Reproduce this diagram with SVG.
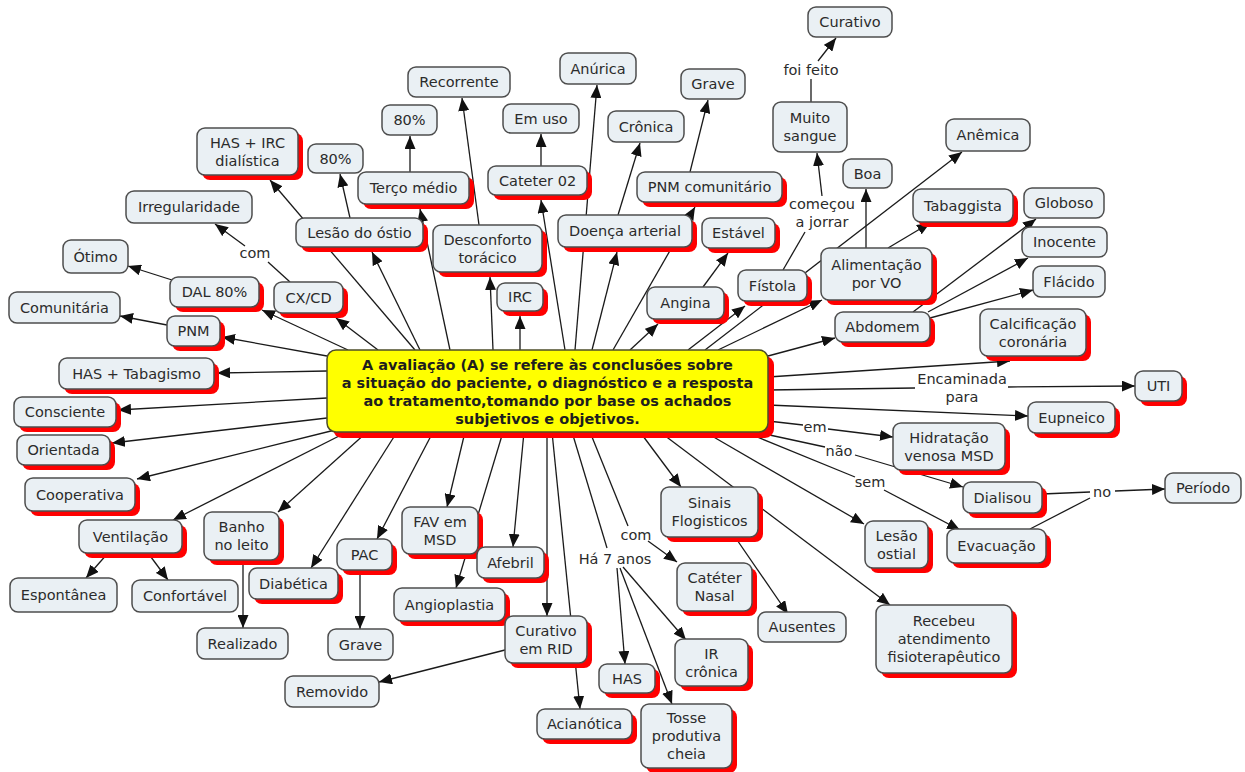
<svg xmlns="http://www.w3.org/2000/svg" width="1245" height="772" viewBox="0 0 1245 772">
<defs>
<style>
.b{fill:#eaf0f4;stroke:#4d4d4d;stroke-width:1.5}
.s{fill:#f00}
.t{font-family:"DejaVu Sans",Verdana,sans-serif;font-size:14.5px;fill:#2b2b2b;text-anchor:middle}
.ct{font-family:"DejaVu Sans",Verdana,sans-serif;font-size:14.5px;font-weight:bold;fill:#1e1e1e;text-anchor:middle}
.c path{fill:none;stroke:#1a1a1a;stroke-width:1.3}
.c path.a{marker-end:url(#ah)}
</style>
<marker id="ah" viewBox="0 0 13 11" refX="13" refY="5.5" markerWidth="13" markerHeight="11" markerUnits="userSpaceOnUse" orient="auto"><path d="M0,0 L13,5.5 L0,11z" fill="#111"/></marker>
</defs>
<rect width="1245" height="772" fill="#fff"/>
<g id="connectors" class="c">
<path class="a" d="M415,350 L270,180"/>
<path class="a" d="M350,218 L340,174"/>
<path class="a" d="M420,350 L372,252"/>
<path class="a" d="M450,350 L420,209"/>
<path class="a" d="M410,172 L410,136"/>
<path class="a" d="M479,225 L462,98"/>
<path class="a" d="M493,350 L490,277"/>
<path class="a" d="M520,350 L520,316"/>
<path class="a" d="M565,350 L541,200"/>
<path class="a" d="M541,166 L541,134"/>
<path class="a" d="M575,350 L597,85"/>
<path class="a" d="M592,350 L617,252"/>
<path class="a" d="M618,215 L640,143"/>
<path class="a" d="M613,350 L695,207"/>
<path class="a" d="M690,172 L708,100"/>
<path class="a" d="M630,350 L658,324"/>
<path class="a" d="M703,287 L728,253"/>
<path class="a" d="M688,350 L745,306"/>
<path d="M783,270 L805,232"/>
<path class="a" d="M822,196 L817,153"/>
<path d="M811,102 L811,79"/>
<path class="a" d="M818,61 L836,38"/>
<path class="a" d="M705,350 L962,152"/>
<path class="a" d="M718,350 L822,300"/>
<path class="a" d="M866,248 L866,189"/>
<path class="a" d="M888,248 L930,223"/>
<path class="a" d="M913,312 L1036,219"/>
<path class="a" d="M928,312 L1028,258"/>
<path class="a" d="M930,318 L1033,290"/>
<path class="a" d="M768,356 L835,338"/>
<path class="a" d="M768,377 L1010,361"/>
<path d="M768,390 L915,388"/>
<path class="a" d="M1008,387 L1135,386"/>
<path class="a" d="M768,405 L1028,416"/>
<path d="M768,421 L803,425"/>
<path class="a" d="M828,429 L893,437"/>
<path d="M765,434 L825,447"/>
<path class="a" d="M855,455 L963,487"/>
<path d="M745,432 L855,477"/>
<path class="a" d="M884,490 L960,530"/>
<path d="M1042,494 L1090,492"/>
<path class="a" d="M1115,491 L1165,489"/>
<path d="M1030,529 L1090,498"/>
<path class="a" d="M705,432 L864,524"/>
<path class="a" d="M660,432 L890,605"/>
<path class="a" d="M640,432 L681,487"/>
<path class="a" d="M735,537 L788,614"/>
<path d="M590,432 L628,526"/>
<path class="a" d="M648,541 L677,562"/>
<path d="M572,432 L607,548"/>
<path class="a" d="M617,568 L625,664"/>
<path class="a" d="M620,568 L672,704"/>
<path class="a" d="M623,567 L686,640"/>
<path class="a" d="M547,432 L547,616"/>
<path class="a" d="M505,650 L379,682"/>
<path class="a" d="M552,432 L580,709"/>
<path class="a" d="M524,432 L513,547"/>
<path class="a" d="M503,432 L456,588"/>
<path class="a" d="M465,432 L447,507"/>
<path class="a" d="M433,432 L377,539"/>
<path class="a" d="M360,570 L360,629"/>
<path class="a" d="M397,432 L311,568"/>
<path class="a" d="M367,432 L278,512"/>
<path class="a" d="M243,560 L243,628"/>
<path class="a" d="M347,432 L173,520"/>
<path class="a" d="M108,553 L86,578"/>
<path class="a" d="M148,553 L168,580"/>
<path class="a" d="M335,430 L137,479"/>
<path class="a" d="M327,418 L112,443"/>
<path class="a" d="M327,398 L118,410"/>
<path class="a" d="M327,371 L217,373"/>
<path class="a" d="M327,356 L222,337"/>
<path class="a" d="M167,325 L120,316"/>
<path class="a" d="M348,350 L262,310"/>
<path class="a" d="M172,280 L128,266"/>
<path class="a" d="M378,350 L336,318"/>
<path d="M290,282 L268,262"/>
<path class="a" d="M245,246 L215,224"/>
</g>
<g id="labels" class="t">
<text x="811" y="75">foi feito</text>
<text x="822" y="209">começou</text>
<text x="822" y="227">a jorrar</text>
<text x="255" y="258">com</text>
<text x="962" y="384">Encaminada</text>
<text x="962" y="402">para</text>
<text x="815" y="432">em</text>
<text x="839" y="456">não</text>
<text x="870" y="487">sem</text>
<text x="1102" y="497">no</text>
<text x="636" y="540">com</text>
<text x="615" y="564">Há 7 anos</text>
</g>
<g id="center">
<rect class="s" x="333" y="356" width="441" height="82" rx="9"/>
<rect x="327" y="350" width="441" height="82" rx="9" fill="#ffff00" stroke="#4d4d2a" stroke-width="1.5"/>
<text class="ct" x="547.5" y="370">A avaliação (A) se refere às conclusões sobre</text>
<text class="ct" x="547.5" y="388">a situação do paciente, o diagnóstico e a resposta</text>
<text class="ct" x="547.5" y="406">ao tratamento,tomando por base os achados</text>
<text class="ct" x="547.5" y="424">subjetivos e objetivos.</text>
</g>
<g id="n-curativo-top"><rect class="b" x="808" y="7" width="84" height="30" rx="8"/><text class="t" x="850" y="27">Curativo</text></g>
<g id="n-muito-sangue"><rect class="b" x="773" y="102" width="74" height="50" rx="8"/><text class="t" x="810" y="123">Muito</text><text class="t" x="810" y="141">sangue</text></g>
<g id="n-anurica"><rect class="b" x="560" y="53" width="76" height="31" rx="8"/><text class="t" x="598" y="73.5">Anúrica</text></g>
<g id="n-recorrente"><rect class="b" x="408" y="67" width="102" height="30" rx="8"/><text class="t" x="459" y="87">Recorrente</text></g>
<g id="n-grave-top"><rect class="b" x="681" y="69" width="64" height="30" rx="8"/><text class="t" x="713" y="89">Grave</text></g>
<g id="n-80-top"><rect class="b" x="382" y="105" width="55" height="30" rx="8"/><text class="t" x="409.5" y="125">80%</text></g>
<g id="n-em-uso"><rect class="b" x="503" y="104" width="76" height="29" rx="8"/><text class="t" x="541" y="123.5">Em uso</text></g>
<g id="n-cronica"><rect class="b" x="608" y="111" width="76" height="31" rx="8"/><text class="t" x="646" y="131.5">Crônica</text></g>
<g id="n-anemica"><rect class="b" x="946" y="119" width="84" height="32" rx="8"/><text class="t" x="988" y="140">Anêmica</text></g>
<g id="n-has-irc"><rect class="s" x="202" y="133" width="101" height="47" rx="8"/><rect class="b" x="197" y="128" width="101" height="47" rx="8"/><text class="t" x="247.5" y="147.5">HAS + IRC</text><text class="t" x="247.5" y="165.5">dialística</text></g>
<g id="n-80-left"><rect class="b" x="308" y="144" width="55" height="29" rx="8"/><text class="t" x="335.5" y="163.5">80%</text></g>
<g id="n-boa"><rect class="b" x="843" y="159" width="49" height="29" rx="8"/><text class="t" x="867.5" y="178.5">Boa</text></g>
<g id="n-cateter02"><rect class="s" x="493" y="171" width="99" height="29" rx="8"/><rect class="b" x="488" y="166" width="99" height="29" rx="8"/><text class="t" x="537.5" y="185.5">Cateter 02</text></g>
<g id="n-terco"><rect class="s" x="363" y="177" width="111" height="32" rx="8"/><rect class="b" x="358" y="172" width="111" height="32" rx="8"/><text class="t" x="413.5" y="193">Terço médio</text></g>
<g id="n-pnm-com"><rect class="s" x="642" y="177" width="145" height="30" rx="8"/><rect class="b" x="637" y="172" width="145" height="30" rx="8"/><text class="t" x="709.5" y="192">PNM comunitário</text></g>
<g id="n-globoso"><rect class="b" x="1024" y="188" width="80" height="30" rx="8"/><text class="t" x="1064" y="208">Globoso</text></g>
<g id="n-tabaggista"><rect class="s" x="918" y="194" width="100" height="33" rx="8"/><rect class="b" x="913" y="189" width="100" height="33" rx="8"/><text class="t" x="963" y="210.5">Tabaggista</text></g>
<g id="n-irregularidade"><rect class="b" x="126" y="191" width="126" height="32" rx="8"/><text class="t" x="189" y="212">Irregularidade</text></g>
<g id="n-lesao-ostio"><rect class="s" x="301" y="223" width="127" height="29" rx="8"/><rect class="b" x="296" y="218" width="127" height="29" rx="8"/><text class="t" x="359.5" y="237.5">Lesão do óstio</text></g>
<g id="n-doenca"><rect class="s" x="563" y="220" width="134" height="32" rx="8"/><rect class="b" x="558" y="215" width="134" height="32" rx="8"/><text class="t" x="625" y="236">Doença arterial</text></g>
<g id="n-estavel"><rect class="s" x="707" y="223" width="73" height="30" rx="8"/><rect class="b" x="702" y="218" width="73" height="30" rx="8"/><text class="t" x="738.5" y="238">Estável</text></g>
<g id="n-desconforto"><rect class="s" x="438" y="230" width="109" height="47" rx="8"/><rect class="b" x="433" y="225" width="109" height="47" rx="8"/><text class="t" x="487.5" y="244.5">Desconforto</text><text class="t" x="487.5" y="262.5">torácico</text></g>
<g id="n-inocente"><rect class="b" x="1022" y="227" width="85" height="30" rx="8"/><text class="t" x="1064.5" y="247">Inocente</text></g>
<g id="n-otimo"><rect class="b" x="63" y="240" width="65" height="33" rx="8"/><text class="t" x="95.5" y="261.5">Ótimo</text></g>
<g id="n-alimentacao"><rect class="s" x="826" y="253" width="111" height="52" rx="8"/><rect class="b" x="821" y="248" width="111" height="52" rx="8"/><text class="t" x="876.5" y="270">Alimentação</text><text class="t" x="876.5" y="288">por VO</text></g>
<g id="n-flacido"><rect class="b" x="1033" y="266" width="72" height="31" rx="8"/><text class="t" x="1069" y="286.5">Flácido</text></g>
<g id="n-fistola"><rect class="s" x="743" y="275" width="69" height="31" rx="8"/><rect class="b" x="738" y="270" width="69" height="31" rx="8"/><text class="t" x="772.5" y="290.5">Fístola</text></g>
<g id="n-dal"><rect class="s" x="175" y="282" width="89" height="30" rx="8"/><rect class="b" x="170" y="277" width="89" height="30" rx="8"/><text class="t" x="214.5" y="297">DAL 80%</text></g>
<g id="n-cxcd"><rect class="s" x="279" y="287" width="69" height="31" rx="8"/><rect class="b" x="274" y="282" width="69" height="31" rx="8"/><text class="t" x="308.5" y="302.5">CX/CD</text></g>
<g id="n-irc"><rect class="s" x="502" y="288" width="46" height="28" rx="8"/><rect class="b" x="497" y="283" width="46" height="28" rx="8"/><text class="t" x="520" y="302">IRC</text></g>
<g id="n-angina"><rect class="s" x="652" y="292" width="77" height="32" rx="8"/><rect class="b" x="647" y="287" width="77" height="32" rx="8"/><text class="t" x="685.5" y="308">Angina</text></g>
<g id="n-comunitaria"><rect class="b" x="9" y="292" width="111" height="31" rx="8"/><text class="t" x="64.5" y="312.5">Comunitária</text></g>
<g id="n-calcificacao"><rect class="s" x="985" y="314" width="106" height="47" rx="8"/><rect class="b" x="980" y="309" width="106" height="47" rx="8"/><text class="t" x="1033" y="328.5">Calcificação</text><text class="t" x="1033" y="346.5">coronária</text></g>
<g id="n-abdomem"><rect class="s" x="840" y="317" width="95" height="30" rx="8"/><rect class="b" x="835" y="312" width="95" height="30" rx="8"/><text class="t" x="882.5" y="332">Abdomem</text></g>
<g id="n-pnm"><rect class="s" x="172" y="321" width="53" height="30" rx="8"/><rect class="b" x="167" y="316" width="53" height="30" rx="8"/><text class="t" x="193.5" y="336">PNM</text></g>
<g id="n-has-tab"><rect class="s" x="64" y="363" width="155" height="31" rx="8"/><rect class="b" x="59" y="358" width="155" height="31" rx="8"/><text class="t" x="136.5" y="378.5">HAS + Tabagismo</text></g>
<g id="n-uti"><rect class="s" x="1140" y="376" width="47" height="30" rx="8"/><rect class="b" x="1135" y="371" width="47" height="30" rx="8"/><text class="t" x="1158.5" y="391">UTI</text></g>
<g id="n-consciente"><rect class="s" x="19" y="402" width="102" height="30" rx="8"/><rect class="b" x="14" y="397" width="102" height="30" rx="8"/><text class="t" x="65" y="417">Consciente</text></g>
<g id="n-eupneico"><rect class="s" x="1033" y="407" width="87" height="31" rx="8"/><rect class="b" x="1028" y="402" width="87" height="31" rx="8"/><text class="t" x="1071.5" y="422.5">Eupneico</text></g>
<g id="n-hidratacao"><rect class="s" x="898" y="428" width="112" height="47" rx="8"/><rect class="b" x="893" y="423" width="112" height="47" rx="8"/><text class="t" x="949" y="442.5">Hidratação</text><text class="t" x="949" y="460.5">venosa MSD</text></g>
<g id="n-orientada"><rect class="s" x="22" y="440" width="93" height="30" rx="8"/><rect class="b" x="17" y="435" width="93" height="30" rx="8"/><text class="t" x="63.5" y="455">Orientada</text></g>
<g id="n-periodo"><rect class="b" x="1165" y="473" width="76" height="30" rx="8"/><text class="t" x="1203" y="493">Período</text></g>
<g id="n-cooperativa"><rect class="s" x="30" y="483" width="110" height="33" rx="8"/><rect class="b" x="25" y="478" width="110" height="33" rx="8"/><text class="t" x="80" y="499.5">Cooperativa</text></g>
<g id="n-dialisou"><rect class="s" x="968" y="487" width="79" height="31" rx="8"/><rect class="b" x="963" y="482" width="79" height="31" rx="8"/><text class="t" x="1002.5" y="502.5">Dialisou</text></g>
<g id="n-sinais"><rect class="s" x="666" y="492" width="97" height="50" rx="8"/><rect class="b" x="661" y="487" width="97" height="50" rx="8"/><text class="t" x="709.5" y="508">Sinais</text><text class="t" x="709.5" y="526">Flogisticos</text></g>
<g id="n-fav"><rect class="s" x="407" y="512" width="76" height="47" rx="8"/><rect class="b" x="402" y="507" width="76" height="47" rx="8"/><text class="t" x="440" y="526.5">FAV em</text><text class="t" x="440" y="544.5">MSD</text></g>
<g id="n-banho"><rect class="s" x="209" y="517" width="75" height="48" rx="8"/><rect class="b" x="204" y="512" width="75" height="48" rx="8"/><text class="t" x="241.5" y="532">Banho</text><text class="t" x="241.5" y="550">no leito</text></g>
<g id="n-ventilacao"><rect class="s" x="84" y="525" width="103" height="33" rx="8"/><rect class="b" x="79" y="520" width="103" height="33" rx="8"/><text class="t" x="130.5" y="541.5">Ventilação</text></g>
<g id="n-lesao-ostial"><rect class="s" x="870" y="526" width="63" height="47" rx="8"/><rect class="b" x="865" y="521" width="63" height="47" rx="8"/><text class="t" x="896.5" y="540.5">Lesão</text><text class="t" x="896.5" y="558.5">ostial</text></g>
<g id="n-evacuacao"><rect class="s" x="952" y="534" width="99" height="34" rx="8"/><rect class="b" x="947" y="529" width="99" height="34" rx="8"/><text class="t" x="996.5" y="551">Evacuação</text></g>
<g id="n-pac"><rect class="s" x="342" y="544" width="55" height="31" rx="8"/><rect class="b" x="337" y="539" width="55" height="31" rx="8"/><text class="t" x="364.5" y="559.5">PAC</text></g>
<g id="n-afebril"><rect class="s" x="482" y="552" width="67" height="31" rx="8"/><rect class="b" x="477" y="547" width="67" height="31" rx="8"/><text class="t" x="510.5" y="567.5">Afebril</text></g>
<g id="n-cateter-nasal"><rect class="s" x="682" y="568" width="75" height="48" rx="8"/><rect class="b" x="677" y="563" width="75" height="48" rx="8"/><text class="t" x="714.5" y="583">Catéter</text><text class="t" x="714.5" y="601">Nasal</text></g>
<g id="n-diabetica"><rect class="s" x="254" y="573" width="89" height="31" rx="8"/><rect class="b" x="249" y="568" width="89" height="31" rx="8"/><text class="t" x="293.5" y="588.5">Diabética</text></g>
<g id="n-espontanea"><rect class="b" x="10" y="578" width="107" height="34" rx="8"/><text class="t" x="63.5" y="600">Espontânea</text></g>
<g id="n-confortavel"><rect class="b" x="132" y="580" width="106" height="32" rx="8"/><text class="t" x="185" y="601">Confortável</text></g>
<g id="n-angioplastia"><rect class="s" x="399" y="593" width="111" height="33" rx="8"/><rect class="b" x="394" y="588" width="111" height="33" rx="8"/><text class="t" x="449.5" y="609.5">Angioplastia</text></g>
<g id="n-recebeu"><rect class="s" x="881" y="610" width="136" height="68" rx="8"/><rect class="b" x="876" y="605" width="136" height="68" rx="8"/><text class="t" x="944" y="626">Recebeu</text><text class="t" x="944" y="644">atendimento</text><text class="t" x="944" y="662">fisioterapêutico</text></g>
<g id="n-ausentes"><rect class="b" x="758" y="612" width="88" height="30" rx="8"/><text class="t" x="802" y="632">Ausentes</text></g>
<g id="n-curativo-rid"><rect class="s" x="510" y="621" width="82" height="47" rx="8"/><rect class="b" x="505" y="616" width="82" height="47" rx="8"/><text class="t" x="546" y="635.5">Curativo</text><text class="t" x="546" y="653.5">em RID</text></g>
<g id="n-realizado"><rect class="b" x="197" y="628" width="91" height="31" rx="8"/><text class="t" x="242.5" y="648.5">Realizado</text></g>
<g id="n-grave-bot"><rect class="b" x="328" y="629" width="65" height="31" rx="8"/><text class="t" x="360.5" y="649.5">Grave</text></g>
<g id="n-ir-cronica"><rect class="s" x="680" y="644" width="73" height="47" rx="8"/><rect class="b" x="675" y="639" width="73" height="47" rx="8"/><text class="t" x="711.5" y="658.5">IR</text><text class="t" x="711.5" y="676.5">crônica</text></g>
<g id="n-has-bot"><rect class="s" x="604" y="669" width="56" height="29" rx="8"/><rect class="b" x="599" y="664" width="56" height="29" rx="8"/><text class="t" x="627" y="683.5">HAS</text></g>
<g id="n-removido"><rect class="b" x="285" y="676" width="94" height="31" rx="8"/><text class="t" x="332" y="696.5">Removido</text></g>
<g id="n-tosse"><rect class="s" x="646" y="709" width="91" height="64" rx="8"/><rect class="b" x="641" y="704" width="91" height="64" rx="8"/><text class="t" x="686.5" y="723">Tosse</text><text class="t" x="686.5" y="741">produtiva</text><text class="t" x="686.5" y="759">cheia</text></g>
<g id="n-acianotica"><rect class="s" x="542" y="714" width="95" height="30" rx="8"/><rect class="b" x="537" y="709" width="95" height="30" rx="8"/><text class="t" x="584.5" y="729">Acianótica</text></g>
</svg>
